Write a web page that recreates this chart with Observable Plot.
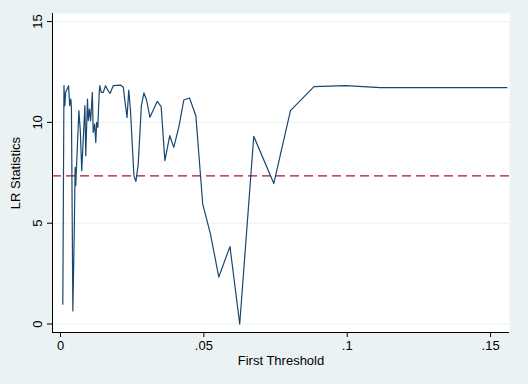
<!DOCTYPE html>
<html>
<head>
<meta charset="utf-8">
<script src="https://cdn.jsdelivr.net/npm/d3@7"></script>
<script src="https://cdn.jsdelivr.net/npm/@observablehq/plot@0.6"></script>
<style>
  html, body { margin: 0; padding: 0; background: #EAF2F3; }
  #chart { width: 528px; height: 384px; }
</style>
</head>
<body>
<div id="chart"></div>
<script>
const thresholds = [0.0008,0.0012,0.0015,0.0018,0.0023,0.0028,0.0032,0.0036,0.0038,0.0043,0.0048,0.0051,0.0053,0.0064,0.0069,0.0074,0.0079,0.0085,0.0088,0.0094,0.0097,0.0101,0.0105,0.0111,0.0114,0.0119,0.0123,0.0126,0.0130,0.0135,0.0137,0.0142,0.0149,0.0157,0.0166,0.0173,0.0184,0.0209,0.0219,0.0223,0.0232,0.0238,0.0244,0.0256,0.0263,0.0271,0.0282,0.0291,0.0300,0.0312,0.0337,0.0351,0.0364,0.0381,0.0395,0.0413,0.0430,0.0450,0.0472,0.0496,0.0523,0.0552,0.0591,0.0625,0.0674,0.0744,0.0802,0.0884,0.0994,0.1116,0.1557];
const lrStats = [0.98,11.82,10.83,11.49,11.66,11.82,10.83,11.16,10.75,0.65,4.7,7.77,6.86,10.58,9.59,7.6,9.1,10.83,8.35,11.16,10.08,10.66,10.08,11.49,9.5,9.92,9.0,10.0,9.75,11.49,11.82,11.49,11.49,11.82,11.57,11.44,11.82,11.85,11.74,11.24,10.25,11.6,10.58,7.35,7.07,7.93,10.83,11.46,11.11,10.25,11.04,10.78,8.1,9.34,8.76,9.79,11.11,11.21,10.33,5.95,4.46,2.33,3.84,0.0,9.31,6.97,10.58,11.77,11.82,11.72,11.72];
const criticalValue = [7.35];
const xTicks = [0, 0.05, 0.1, 0.15];
const yTicks = [0, 5, 10, 15];
const xDomain = [-0.0028, 0.1566];
const yDomain = [-0.42, 15.4];

const data = thresholds.map((t, i) => ({t, lr: lrStats[i]}));
const fmtX = d => d === 0 ? "0" : String(d).replace(/^0/, "");

const chart = Plot.plot({
  width: 528,
  height: 384,
  marginLeft: 52,
  marginRight: 19,
  marginTop: 13,
  marginBottom: 52,
  style: {background: "transparent", fontFamily: "Liberation Sans, Arial, sans-serif", fontSize: "13px", color: "#000"},
  x: {domain: xDomain},
  y: {domain: yDomain},
  marks: [
    Plot.frame({fill: "white", stroke: null}),
    Plot.ruleY(yTicks, {stroke: "#EAF2F3", strokeWidth: 1}),
    Plot.ruleY(criticalValue, {stroke: "#B0113C", strokeWidth: 1.3, strokeDasharray: "9,5"}),
    Plot.line(data, {x: "t", y: "lr", stroke: "#1A476F", strokeWidth: 1.2}),
    Plot.ruleX([xDomain[0]], {stroke: "#000", strokeWidth: 1}),
    Plot.ruleY([yDomain[0]], {stroke: "#000", strokeWidth: 1}),
    Plot.axisX({ticks: xTicks, tickFormat: fmtX, tickSize: 5, tickPadding: 3, label: "First Threshold", labelAnchor: "center", labelOffset: 32, labelArrow: false, fontSize: 13}),
    Plot.axisY({ticks: yTicks, tickSize: 5, tickRotate: -90, tickPadding: 6, label: "LR Statistics", labelAnchor: "center", labelOffset: 42, labelArrow: false, fontSize: 13})
  ]
});
document.getElementById("chart").appendChild(chart);
</script>
</body>
</html>
